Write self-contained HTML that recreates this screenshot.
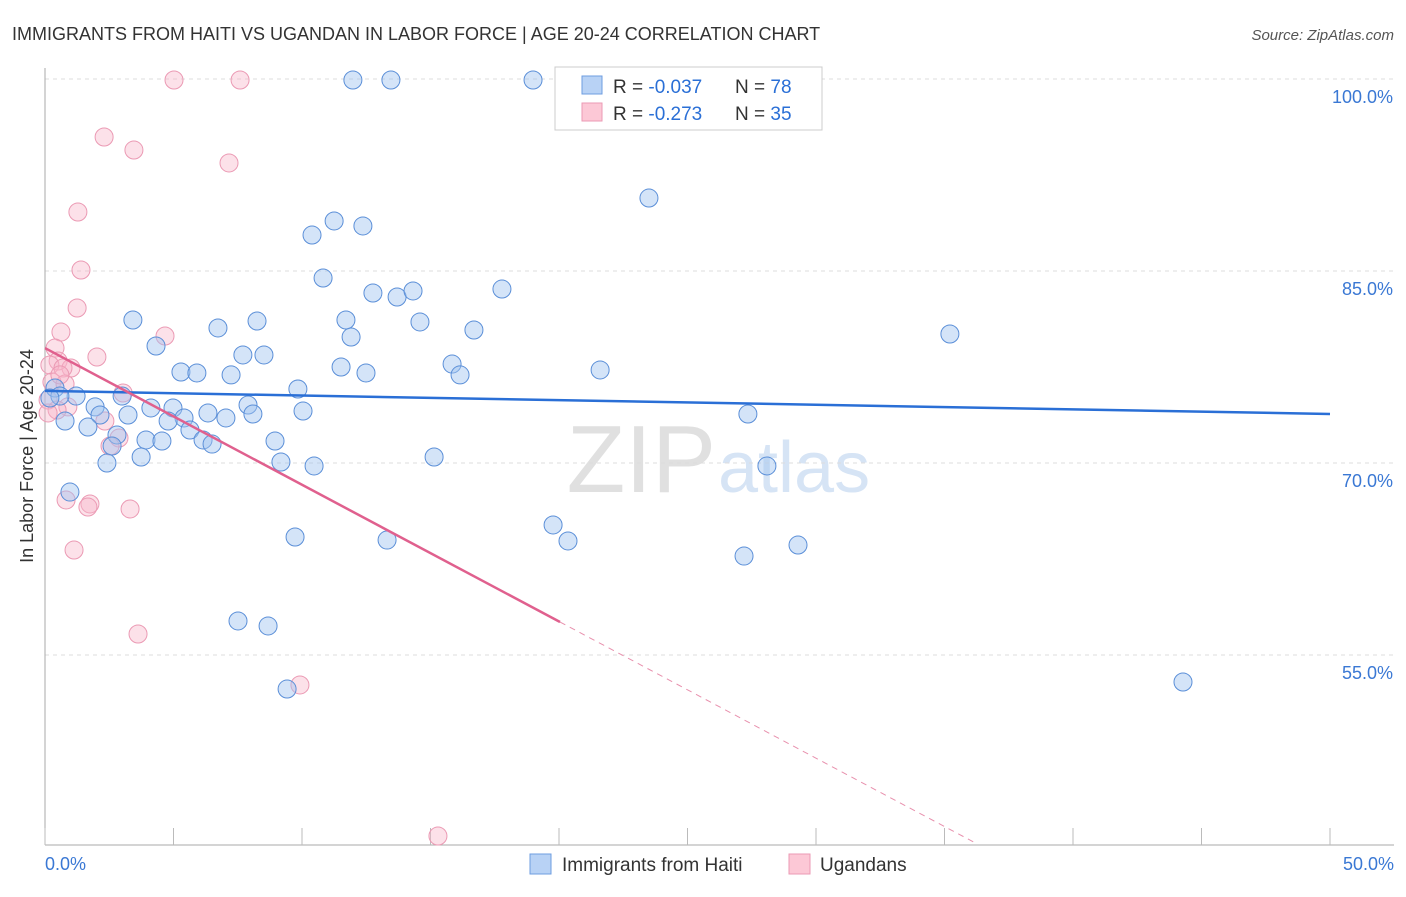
<!DOCTYPE html>
<html><head><meta charset="utf-8"><style>
body{margin:0;background:#fff;font-family:"Liberation Sans",sans-serif}
svg text{font-family:"Liberation Sans",sans-serif}
</style></head><body>
<svg id="chart" width="1406" height="892">
<text x="12" y="40" font-size="18" fill="#333">IMMIGRANTS FROM HAITI VS UGANDAN IN LABOR FORCE | AGE 20-24 CORRELATION CHART</text>
<text x="1394" y="40" font-size="15" fill="#555" font-style="italic" text-anchor="end">Source: ZipAtlas.com</text>
<text x="33" y="456" font-size="18" fill="#333" text-anchor="middle" transform="rotate(-90 33 456)">In Labor Force | Age 20-24</text>
<text x="716" y="492" font-size="96" fill="#e0e0e0" font-family="Liberation Serif" text-anchor="end">ZIP</text>
<text x="718" y="492" font-size="72" fill="#d6e4f5">atlas</text>
<g id="grid"></g><g id="pts"></g><g id="trend"></g>
<g>
<rect x="555" y="67" width="267" height="63" fill="#fff" stroke="#ccc"/>
<rect x="582" y="76" width="20" height="18" fill="#b8d2f5" stroke="#6e9de0"/>
<rect x="582" y="103" width="20" height="18" fill="#fcc8d6" stroke="#eb9ab4"/>
<text x="613" y="93" font-size="19" fill="#333">R = <tspan fill="#2a6fd6">-0.037</tspan><tspan x="735">N = </tspan><tspan fill="#2a6fd6">78</tspan></text>
<text x="613" y="120" font-size="19" fill="#333">R = <tspan fill="#2a6fd6"> -0.273</tspan><tspan x="735">N = </tspan><tspan fill="#2a6fd6">35</tspan></text>
</g>
<g>
<rect x="530" y="854" width="21" height="20" fill="#b8d2f5" stroke="#6e9de0"/>
<text x="562" y="871" font-size="19" fill="#333">Immigrants from Haiti</text>
<rect x="789" y="854" width="21" height="20" fill="#fcc8d6" stroke="#eb9ab4"/>
<text x="820" y="871" font-size="19" fill="#333">Ugandans</text>
</g>
</svg>
<script>
const xTicks=[0,5,10,15,20,25,30,35,40,45,50];
const yTicks=[55,70,85,100];
const yTickLabels=["55.0%","70.0%","85.0%","100.0%"];
const haitiX=[11.98,13.46,18.99,23.5,11.25,12.37,10.39,10.82,12.76,13.7,14.32,17.78,3.42,8.25,11.71,14.59,16.69,6.73,35.21,11.91,4.32,7.7,8.52,11.52,12.49,15.84,16.15,21.6,5.29,5.91,7.24,9.84,0.39,3.0,1.21,0.58,0.19,7.9,10.04,1.95,4.12,4.98,6.34,7.04,8.09,2.14,3.23,0.78,5.41,4.79,27.35,1.67,5.64,2.8,3.93,4.55,6.15,6.5,8.95,2.61,3.74,15.14,2.41,9.18,10.47,28.09,0.97,19.77,9.73,20.35,13.31,29.3,27.2,7.51,8.68,9.42,44.28];
const haitiY=[99.92,99.92,99.92,90.7,88.91,88.52,87.81,84.45,83.28,82.97,83.44,83.59,81.17,81.09,81.17,81.02,80.39,80.55,80.08,79.84,79.14,78.44,78.44,77.5,77.03,77.73,76.88,77.27,77.11,77.03,76.88,75.78,75.86,75.23,75.23,75.23,75.08,74.53,74.06,74.38,74.3,74.3,73.91,73.52,73.83,73.75,73.75,73.28,73.52,73.28,73.83,72.81,72.58,72.19,71.8,71.72,71.8,71.48,71.72,71.33,70.47,70.47,70.0,70.08,69.77,69.77,67.73,65.16,64.22,63.91,63.98,63.59,62.73,57.66,57.27,52.34,52.89];
const ugX=[5.02,7.59,2.3,3.46,7.16,1.28,1.4,1.25,0.62,4.67,0.39,2.02,0.51,0.19,1.01,0.7,0.27,0.78,0.12,3.04,0.89,0.47,0.12,2.33,2.88,2.53,0.82,1.75,1.67,3.31,1.13,3.62,9.92,15.29,0.58];
const ugY=[99.92,99.92,95.47,94.45,93.44,89.61,85.08,82.11,80.23,79.92,78.98,78.28,77.97,77.66,77.42,77.42,76.33,76.17,74.92,75.47,74.38,74.14,73.91,73.28,71.95,71.33,67.11,66.8,66.56,66.41,63.2,56.64,52.66,40.86,76.88];
const haitiTrend=[75.63,73.83];
const ugTrend=[78.98,-1.068];
const NS="http://www.w3.org/2000/svg";
const X=v=>45+v*25.7, Y=v=>79+(100-v)*12.8;
function mk(t,a,p){const e=document.createElementNS(NS,t);for(const k in a)e.setAttribute(k,a[k]);p.appendChild(e);return e;}
const grid=document.getElementById('grid');
yTicks.forEach((t,i)=>{
 const l=mk('line',{x1:45,x2:1394,y1:Y(t),y2:Y(t),stroke:'#ddd','stroke-dasharray':'4,4'},grid);
 
 
 const tx=mk('text',{x:1393,y:Y(t)+24,'font-size':18,fill:'#3a78d4','text-anchor':'end'},grid);tx.textContent=yTickLabels[i];
 
 
});
mk('line',{x1:45,x2:45,y1:68,y2:845,stroke:'#aaa'},grid);
mk('line',{x1:45,x2:1394,y1:845,y2:845,stroke:'#aaa'},grid);
xTicks.forEach(t=>{const l=mk('line',{x1:X(t),x2:X(t),y1:828,y2:845,stroke:'#bbb'},grid);
 
 });
[[0,'0.0%','start',45],[50,'50.0%','end',1394]].forEach(d=>{const tx=mk('text',{x:d[3],y:870,'font-size':18,fill:'#3a78d4','text-anchor':d[2]},grid);tx.textContent=d[1];
 
 });
const pts=document.getElementById('pts');
ugX.forEach((v,i)=>{const c=mk('circle',{cx:X(v),cy:Y(ugY[i]),r:9,fill:'rgba(248,180,200,0.4)',stroke:'#eb9ab4','stroke-width':1},pts);
 
 });
haitiX.forEach((v,i)=>{const c=mk('circle',{cx:X(v),cy:Y(haitiY[i]),r:9,fill:'rgba(160,196,240,0.45)',stroke:'#5b8fd8','stroke-width':1},pts);
 
 });
const tr=document.getElementById('trend');
const hl=mk('line',{x1:X(0),y1:Y(haitiTrend[0]),x2:X(50),y2:Y(haitiTrend[1]),stroke:'#2a6fd6','stroke-width':2.5},tr);


const uy=x=>ugTrend[0]+ugTrend[1]*x;
const ul=mk('line',{x1:X(0),y1:Y(uy(0)),x2:X(20.04),y2:Y(uy(20.04)),stroke:'#e0608e','stroke-width':2.5},tr);


const ud=mk('line',{x1:X(20.04),y1:Y(uy(20.04)),x2:X(36.19),y2:Y(uy(36.19)),stroke:'#e890ad','stroke-width':1,'stroke-dasharray':'6,5'},tr);


</script>
</body></html>
